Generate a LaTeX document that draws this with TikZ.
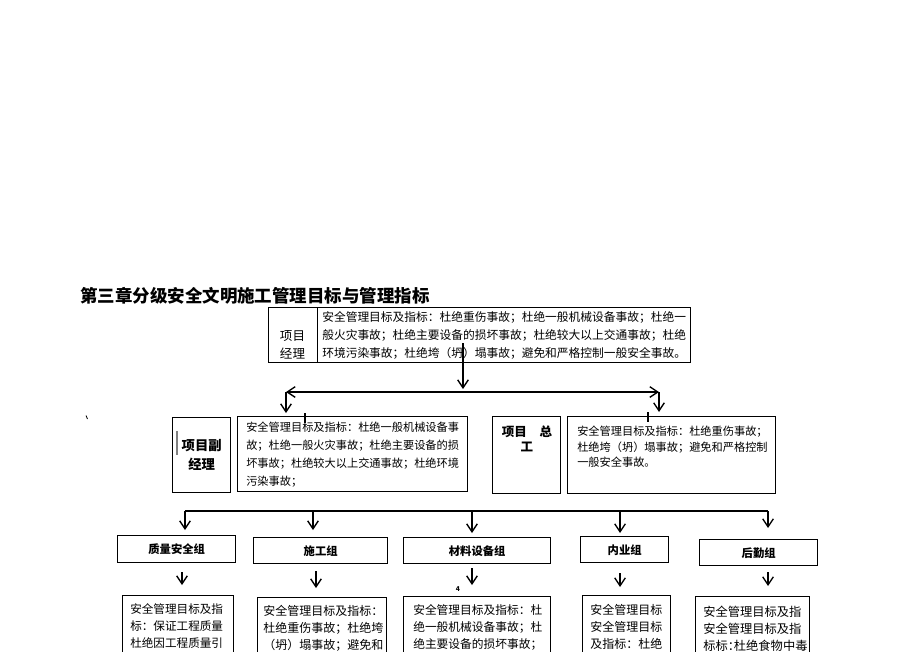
\documentclass[tikz,border=0pt]{standalone}
\usepackage{fontspec}
\setmainfont{Noto Sans CJK SC}
\usetikzlibrary{arrows.meta}
\def\px{0.75pt}
\begin{document}
\begin{tikzpicture}[x=0.75pt, y=-0.75pt,
  box/.style={draw, line width=1pt, inner sep=0pt, anchor=north west},
  tip/.style={Straight Barb[length=6pt,width=8pt]},
  arr/.style={line width=1pt, -{Straight Barb[length=6pt,width=8pt]}},
  arrb/.style={line width=1pt, {Straight Barb[length=6pt,width=8pt]}-{Straight Barb[length=6pt,width=8pt]}},
  body/.style={inner sep=0pt, align=left, anchor=north west},
  lab/.style={inner sep=0pt, align=center},
  grp/.style={box, align=center, font=\bfseries\fontsize{8.5}{10}\selectfont}]
\useasboundingbox (0,0) rectangle (920,651);
\clip (0,0) rectangle (920,651);

% title
\node[anchor=west, inner sep=0pt, font=\bfseries\fontsize{13.1}{15}\selectfont] (title) at (80,296) {第三章分级安全文明施工管理目标与管理指标};

% top row
\node[box, minimum width=49*\px, minimum height=55*\px] (pm) at (268,307) {};
\node[lab, font=\fontsize{9.4}{13.5}\selectfont] (pmlab) at (292.5,345) {项目\\经理};
\node[box, minimum width=373*\px, minimum height=55*\px, align=left, font=\fontsize{8.8}{13.5}\selectfont] (pmtxt) at (317,307) {安全管理目标及指标：杜绝重伤事故；杜绝一般机械设备事故；杜绝一\\般火灾事故；杜绝主要设备的损坏事故；杜绝较大以上交通事故；杜绝\\环境污染事故；杜绝垮（坍）塌事故；避免和严格控制一般安全事故。};

% distribution from top
\coordinate (s0) at (463,343);
\coordinate (hl) at (286,392);
\coordinate (hr) at (659,392);
\draw[arr, shorten >=3*\px] (s0) -- (s0 |- hl);
\draw[arrb] (hl) -- (hr);

% middle row
\node[box, minimum width=58*\px, minimum height=75*\px, align=center, font=\bfseries\fontsize{10}{14.25}\selectfont] (dp) at (172,417) {项目副\\经理};
\node[box, minimum width=230*\px, minimum height=75*\px, align=left, font=\fontsize{8.4}{13.5}\selectfont] (dptxt) at (237,416) {安全管理目标及指标：杜绝一般机械设备事\\故；杜绝一般火灾事故；杜绝主要设备的损\\坏事故；杜绝较大以上交通事故；杜绝环境\\污染事故；};
\node[box, minimum width=68*\px, minimum height=77*\px] (ce) at (492,416) {};
\node[lab, font=\bfseries\fontsize{9.4}{11.25}\selectfont] (celab) at (527,438.5) {项目　总\\工};
\node[box, minimum width=208*\px, minimum height=77*\px] (cetxt) at (567,416) {};
\node[body, font=\fontsize{8.4}{11.6}\selectfont] (cetxtb) at (577,426) {安全管理目标及指标：杜绝重伤事故；\\杜绝垮（坍）塌事故；避免和严格控制\\一般安全事故。};

\draw[arr, shorten >=3*\px] (hl) -- (hl |- dptxt.north);
\draw[arr, shorten >=4*\px] (hr) -- (hr |- cetxt.north);

% stray marks
\draw[line width=0.8pt] (305,413) -- (305,423);
\draw[line width=0.8pt] (648,412) -- (648,422);
\draw[line width=1.6pt, gray] (177,431) -- (177,455);
\draw[line width=0.6pt] (86,415.5) -- (87.5,419);

% bottom distribution line
\coordinate (a1) at (185,511);
\coordinate (a2) at (313,511);
\coordinate (a3) at (472,511);
\coordinate (a4) at (620,511);
\coordinate (a5) at (768,511);
\draw[line width=1pt] (a1) -- (a5);

% group boxes
\node[grp, minimum width=118*\px, minimum height=27*\px] (g1) at (117,535) {质量安全组};
\node[grp, minimum width=134*\px, minimum height=26*\px] (g2) at (253,537) {施工组};
\node[grp, minimum width=147*\px, minimum height=26*\px] (g3) at (403,537) {材料设备组};
\node[grp, minimum width=88*\px, minimum height=26*\px] (g4) at (580,536) {内业组};
\node[grp, minimum width=118*\px, minimum height=26*\px] (g5) at (699,539) {后勤组};

\draw[arr, shorten >=5*\px] (a1) -- (a1 |- g1.north);
\draw[arr, shorten >=7*\px] (a2) -- (a2 |- g2.north);
\draw[arr, shorten >=4*\px] (a3) -- (a3 |- g3.north);
\draw[arr, shorten >=3*\px] (a4) -- (a4 |- g4.north);
\draw[arr, shorten >=11*\px] (a5) -- (a5 |- g5.north);

% bottom boxes
\node[box, minimum width=111*\px, minimum height=90*\px] (t1) at (122,595) {};
\node[box, minimum width=129*\px, minimum height=90*\px] (t2) at (257,597) {};
\node[box, minimum width=147*\px, minimum height=90*\px] (t3) at (403,596) {};
\node[box, minimum width=88*\px, minimum height=90*\px] (t4) at (582,595) {};
\node[box, minimum width=114*\px, minimum height=90*\px] (t5) at (695,596) {};

\node[body, font=\fontsize{8.7}{12.75}\selectfont] (tt1) at (130,603) {安全管理目标及指\\标：保证工程质量\\杜绝因工程质量引};
\node[body, font=\fontsize{9}{12.75}\selectfont] (tt2) at (263,605.5) {安全管理目标及指标：\\杜绝重伤事故；杜绝垮\\（坍）塌事故；避免和};
\node[body, font=\fontsize{8.8}{12.75}\selectfont] (tt3) at (413,604) {安全管理目标及指标：杜\\绝一般机械设备事故；杜\\绝主要设备的损坏事故；};
\node[body, font=\fontsize{9}{12.75}\selectfont] (tt4) at (590,604.5) {安全管理目标\\安全管理目标\\及指标：杜绝};
\node[body, font=\fontsize{9.2}{12.75}\selectfont] (tt5) at (703,606) {安全管理目标及指\\安全管理目标及指\\标标\makebox[0.5em][l]{：}杜绝食物中毒};

\coordinate (c1) at (182,572);
\coordinate (c2) at (316,571);
\coordinate (c3) at (472,568);
\coordinate (c4) at (620,573);
\coordinate (c5) at (768,572);
\draw[arr, shorten >=10*\px] (c1) -- (c1 |- t1.north);
\draw[arr, shorten >=9*\px] (c2) -- (c2 |- t2.north);
\draw[arr, shorten >=11*\px] (c3) -- (c3 |- t3.north);
\draw[arr, shorten >=8*\px] (c4) -- (c4 |- t4.north);
\draw[arr, shorten >=10*\px] (c5) -- (c5 |- t5.north);

\node[inner sep=0pt, font=\bfseries\fontsize{5}{6}\selectfont] (pg) at (458,589) {4};
\end{tikzpicture}
\end{document}
